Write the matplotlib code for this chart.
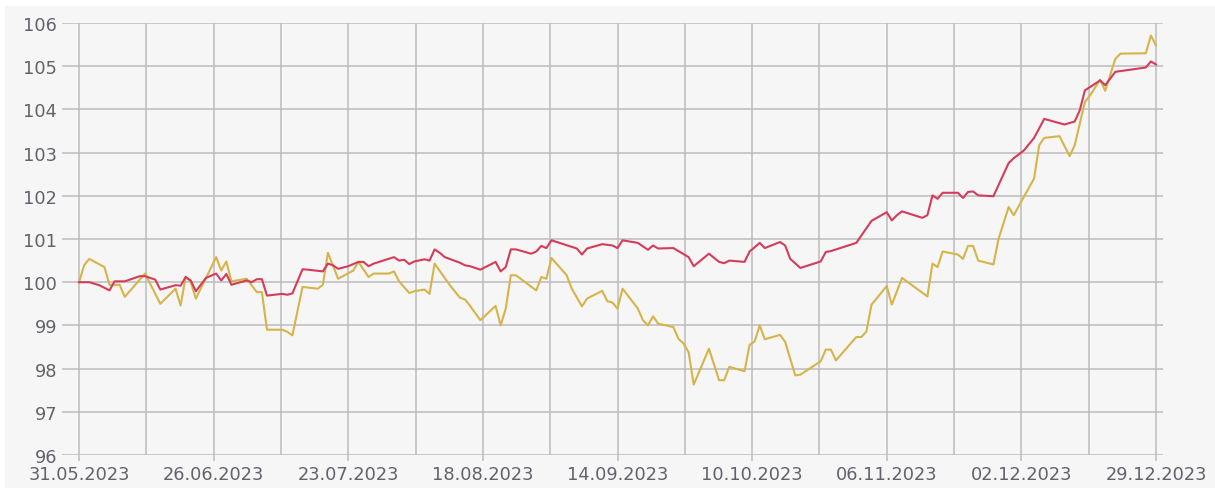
import pandas as pd
import matplotlib
matplotlib.use("Agg")
import matplotlib.pyplot as plt
import matplotlib.dates as mdates
from matplotlib.patches import Rectangle

# red series (index)
red_dates = [
    "2023-05-31", "2023-06-02", "2023-06-04", "2023-06-06", "2023-06-07", "2023-06-09", "2023-06-12",
    "2023-06-13", "2023-06-15", "2023-06-16", "2023-06-19", "2023-06-20", "2023-06-21", "2023-06-22",
    "2023-06-23", "2023-06-25", "2023-06-27", "2023-06-28", "2023-06-29", "2023-06-30", "2023-07-03",
    "2023-07-04", "2023-07-05", "2023-07-06", "2023-07-07", "2023-07-10", "2023-07-11", "2023-07-12",
    "2023-07-14", "2023-07-15", "2023-07-18", "2023-07-19", "2023-07-20", "2023-07-21", "2023-07-23",
    "2023-07-25", "2023-07-26", "2023-07-27", "2023-07-28", "2023-08-01", "2023-08-02", "2023-08-03",
    "2023-08-04", "2023-08-05", "2023-08-07", "2023-08-08", "2023-08-09", "2023-08-10", "2023-08-11",
    "2023-08-14", "2023-08-15", "2023-08-16", "2023-08-18", "2023-08-19", "2023-08-21", "2023-08-22",
    "2023-08-23", "2023-08-24", "2023-08-25", "2023-08-28", "2023-08-29", "2023-08-30", "2023-08-31",
    "2023-09-01", "2023-09-06", "2023-09-07", "2023-09-08", "2023-09-11", "2023-09-13", "2023-09-14",
    "2023-09-15", "2023-09-18", "2023-09-20", "2023-09-21", "2023-09-22", "2023-09-25", "2023-09-28",
    "2023-09-29", "2023-10-02", "2023-10-04", "2023-10-05", "2023-10-06", "2023-10-09", "2023-10-10",
    "2023-10-12", "2023-10-13", "2023-10-16", "2023-10-17", "2023-10-18", "2023-10-20", "2023-10-24",
    "2023-10-25", "2023-10-26", "2023-10-31", "2023-11-03", "2023-11-06", "2023-11-07", "2023-11-08",
    "2023-11-09", "2023-11-13", "2023-11-14", "2023-11-15", "2023-11-16", "2023-11-17", "2023-11-20",
    "2023-11-21", "2023-11-22", "2023-11-23", "2023-11-24", "2023-11-27", "2023-11-30", "2023-12-01",
    "2023-12-03", "2023-12-05", "2023-12-07", "2023-12-11", "2023-12-13", "2023-12-14", "2023-12-15",
    "2023-12-18", "2023-12-19", "2023-12-21", "2023-12-27", "2023-12-28", "2023-12-29",
]
red_values = [
    100.00, 100.00, 99.93, 99.81, 100.02, 100.02, 100.14,
    100.14, 100.06, 99.83, 99.93, 99.92, 100.12, 100.04,
    99.79, 100.10, 100.20, 100.04, 100.19, 99.94, 100.04,
    100.00, 100.07, 100.07, 99.69, 99.73, 99.71, 99.74,
    100.30, 100.29, 100.25, 100.43, 100.39, 100.31, 100.37,
    100.47, 100.47, 100.37, 100.43, 100.58, 100.50, 100.52,
    100.42, 100.48, 100.53, 100.50, 100.76, 100.68, 100.58,
    100.45, 100.39, 100.37, 100.29, 100.35, 100.47, 100.25,
    100.35, 100.76, 100.76, 100.66, 100.71, 100.84, 100.79,
    100.97, 100.78, 100.64, 100.78, 100.88, 100.85, 100.79,
    100.97, 100.91, 100.75, 100.85, 100.78, 100.79, 100.58,
    100.37, 100.66, 100.47, 100.44, 100.50, 100.47, 100.71,
    100.91, 100.79, 100.93, 100.85, 100.54, 100.33, 100.48,
    100.70, 100.72, 100.91, 101.42, 101.62, 101.43, 101.55,
    101.64, 101.49, 101.55, 102.01, 101.93, 102.07, 102.07,
    101.95, 102.09, 102.10, 102.01, 101.99, 102.76, 102.87,
    103.05, 103.34, 103.78, 103.65, 103.72, 103.98, 104.44,
    104.67, 104.56, 104.87, 104.97, 105.11, 105.04,
]

# yellow series
yellow_dates = [
    "2023-05-31", "2023-06-01", "2023-06-02", "2023-06-05", "2023-06-06", "2023-06-08", "2023-06-09",
    "2023-06-13", "2023-06-16", "2023-06-19", "2023-06-20", "2023-06-21", "2023-06-22", "2023-06-23",
    "2023-06-27", "2023-06-28", "2023-06-29", "2023-06-30", "2023-07-03", "2023-07-05", "2023-07-06",
    "2023-07-07", "2023-07-10", "2023-07-11", "2023-07-12", "2023-07-14", "2023-07-17", "2023-07-18",
    "2023-07-19", "2023-07-21", "2023-07-24", "2023-07-25", "2023-07-27", "2023-07-28", "2023-07-31",
    "2023-08-01", "2023-08-02", "2023-08-04", "2023-08-05", "2023-08-07", "2023-08-08", "2023-08-09",
    "2023-08-12", "2023-08-14", "2023-08-15", "2023-08-16", "2023-08-18", "2023-08-21", "2023-08-22",
    "2023-08-23", "2023-08-24", "2023-08-25", "2023-08-29", "2023-08-30", "2023-08-31", "2023-09-01",
    "2023-09-04", "2023-09-05", "2023-09-07", "2023-09-08", "2023-09-11", "2023-09-12", "2023-09-13",
    "2023-09-14", "2023-09-15", "2023-09-18", "2023-09-19", "2023-09-20", "2023-09-21", "2023-09-22",
    "2023-09-25", "2023-09-26", "2023-09-27", "2023-09-28", "2023-09-29", "2023-10-02", "2023-10-04",
    "2023-10-05", "2023-10-06", "2023-10-09", "2023-10-10", "2023-10-11", "2023-10-12", "2023-10-13",
    "2023-10-16", "2023-10-17", "2023-10-19", "2023-10-20", "2023-10-24", "2023-10-25", "2023-10-26",
    "2023-10-27", "2023-10-31", "2023-11-01", "2023-11-02", "2023-11-03", "2023-11-06", "2023-11-07",
    "2023-11-09", "2023-11-14", "2023-11-15", "2023-11-16", "2023-11-17", "2023-11-20", "2023-11-21",
    "2023-11-22", "2023-11-23", "2023-11-24", "2023-11-27", "2023-11-28", "2023-11-30", "2023-12-01",
    "2023-12-05", "2023-12-06", "2023-12-07", "2023-12-10", "2023-12-12", "2023-12-13", "2023-12-15",
    "2023-12-16", "2023-12-18", "2023-12-19", "2023-12-21", "2023-12-22", "2023-12-27", "2023-12-28",
    "2023-12-29",
]
yellow_values = [
    100.00, 100.39, 100.54, 100.35, 99.94, 99.94, 99.66,
    100.20, 99.50, 99.85, 99.46, 100.13, 100.00, 99.62,
    100.58, 100.27, 100.48, 100.02, 100.08, 99.77, 99.77,
    98.90, 98.90, 98.85, 98.77, 99.89, 99.85, 99.94,
    100.68, 100.08, 100.27, 100.47, 100.12, 100.20, 100.20,
    100.25, 100.02, 99.75, 99.79, 99.83, 99.73, 100.43,
    99.93, 99.64, 99.60, 99.45, 99.12, 99.45, 99.00,
    99.39, 100.16, 100.16, 99.81, 100.12, 100.08, 100.56,
    100.16, 99.85, 99.44, 99.62, 99.80, 99.56, 99.53,
    99.39, 99.85, 99.39, 99.12, 99.00, 99.21, 99.04,
    98.96, 98.69, 98.58, 98.38, 97.63, 98.46, 97.73,
    97.73, 98.04, 97.94, 98.55, 98.63, 99.00, 98.68,
    98.78, 98.62, 97.84, 97.86, 98.17, 98.44, 98.44,
    98.19, 98.73, 98.73, 98.86, 99.48, 99.91, 99.48,
    100.10, 99.67, 100.43, 100.35, 100.71, 100.64, 100.54,
    100.84, 100.84, 100.50, 100.41, 101.00, 101.74, 101.55,
    102.40, 103.17, 103.34, 103.38, 102.92, 103.17, 104.17,
    104.32, 104.69, 104.43, 105.17, 105.29, 105.30, 105.71,
    105.48,
]

y_ticks = [96, 97, 98, 99, 100, 101, 102, 103, 104, 105, 106]
start, end = pd.Timestamp("2023-05-31"), pd.Timestamp("2023-12-29")

W, H = 1215, 489
fig = plt.figure(figsize=(W / 100, H / 100), dpi=100, facecolor="#f6f6f6")
# thin white margin at the top and on the left, as in the screenshot
fig.patches.append(Rectangle((0, 1 - 7 / H), 1, 7 / H, transform=fig.transFigure,
                             facecolor="white", edgecolor="none", zorder=-10))
fig.patches.append(Rectangle((0, 0), 5 / W, 1, transform=fig.transFigure,
                             facecolor="white", edgecolor="none", zorder=-10))

ax = fig.add_axes([62 / W, 33 / H, (1163 - 62) / W, (456 - 24) / H])
ax.set_facecolor("#f6f6f6")

ax.plot(pd.to_datetime(yellow_dates), yellow_values, color="#d6b44a", lw=1.5, zorder=3)
ax.plot(pd.to_datetime(red_dates), red_values, color="#d43c5a", lw=1.5, zorder=4)

day = pd.Timedelta(days=1)
ax.set_xlim(start - 3.35 * day, end + 1.38 * day)
ax.set_ylim(96, 106)

step = (end - start) / 16
major = [start + k * step for k in range(0, 17, 2)]
minor = [start + k * step for k in range(1, 17, 2)]
ax.set_xticks(major)
ax.set_xticks(minor, minor=True)
ax.xaxis.set_major_formatter(mdates.DateFormatter("%d.%m.%Y"))
ax.set_yticks(y_ticks)

gcol = "#bcbcbc"
ax.grid(True, which="both", color=gcol, lw=1.1, zorder=1)
ax.set_axisbelow(True)
for s in ax.spines.values():
    s.set_visible(False)

ax.tick_params(axis="x", which="major", length=4.5, width=1.1, color=gcol,
               pad=3, labelsize=12.8, labelcolor="#62626c")
ax.tick_params(axis="x", which="minor", length=0)
ax.tick_params(axis="y", length=0, pad=3.5, labelsize=12.8, labelcolor="#62626c")

fig.savefig("out.png", dpi=100, facecolor=fig.get_facecolor())
